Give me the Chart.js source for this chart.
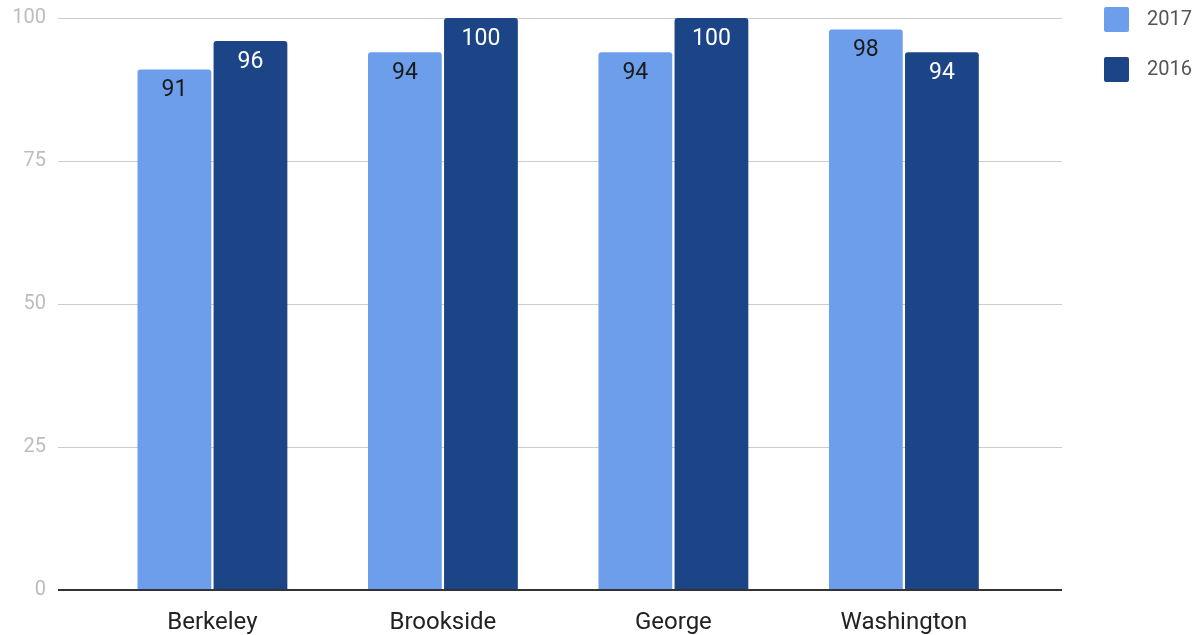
<!DOCTYPE html>
<html>
<head>
<meta charset="utf-8">
<script src="https://cdn.jsdelivr.net/npm/chart.js@4"></script>
<style>
  html, body { margin: 0; padding: 0; background: #fff; }
  #wrap { width: 1200px; height: 635px; }
</style>
</head>
<body>
<div id="wrap"><canvas id="chart" width="1200" height="635"></canvas></div>
<script>
const schools = ['Berkeley', 'Brookside', 'George', 'Washington'];
const scores2017 = [91, 94, 94, 98];
const scores2016 = [96, 100, 100, 94];
const yTicks = [0, 25, 50, 75, 100];

const lightBlue = '#6d9eeb';
const darkBlue = '#1c4587';

// value labels inside the top of each bar
const barLabels = {
  id: 'barLabels',
  afterDatasetsDraw(chart) {
    const ctx = chart.ctx;
    ctx.save();
    ctx.font = '23px Roboto';
    ctx.textAlign = 'center';
    ctx.textBaseline = 'middle';
    chart.data.datasets.forEach((ds, i) => {
      chart.getDatasetMeta(i).data.forEach((bar, j) => {
        ctx.fillStyle = ds.labelColor;
        ctx.fillText(ds.data[j].y, bar.x, bar.y + 21);
      });
    });
    ctx.restore();
  }
};

// legend drawn at top right
const sideLegend = {
  id: 'sideLegend',
  afterDraw(chart) {
    const ctx = chart.ctx;
    const x = chart.chartArea.right + 42;
    ctx.save();
    ctx.font = '20px Roboto';
    ctx.textBaseline = 'middle';
    chart.data.datasets.forEach((ds, i) => {
      const y = 7 + i * 50;
      ctx.fillStyle = ds.backgroundColor;
      ctx.beginPath();
      ctx.roundRect(x, y, 25, 25, 2);
      ctx.fill();
      ctx.fillStyle = '#555';
      ctx.fillText(ds.label, x + 43, y + 13);
    });
    ctx.restore();
  }
};

new Chart(document.getElementById('chart'), {
  type: 'bar',
  data: {
    datasets: [
      {
        label: '2017',
        data: scores2017.map((v, i) => ({ x: i, y: v })),
        backgroundColor: lightBlue,
        labelColor: '#1a1a1a',
        borderRadius: 3
      },
      {
        label: '2016',
        data: scores2016.map((v, i) => ({ x: i, y: v })),
        backgroundColor: darkBlue,
        labelColor: '#ffffff',
        borderRadius: 3
      }
    ]
  },
  options: {
    responsive: false,
    animation: false,
    categoryPercentage: 0.66,
    barPercentage: 0.97,
    layout: { padding: { top: 18, right: 138, left: 0, bottom: 0 } },
    plugins: {
      legend: { display: false },
      tooltip: { enabled: false }
    },
    scales: {
      x: {
        type: 'linear',
        offset: false,
        min: -0.67,
        max: 3.686,
        afterFit: s => { s.height = 45; s.paddingLeft = 0; s.paddingRight = 0; },
        grid: { display: false, offset: false },
        border: { display: false },
        ticks: {
          stepSize: 1,
          includeBounds: false,
          autoSkip: false,
          maxRotation: 0,
          padding: 11,
          color: '#222',
          font: { family: 'Roboto', size: 24 },
          callback: v => (Number.isInteger(v) && schools[v] !== undefined) ? schools[v] : null
        }
      },
      y: {
        min: 0,
        max: 100,
        afterFit: s => { s.width = 58; s.paddingTop = 0; s.paddingBottom = 0; },
        afterBuildTicks: s => { s.ticks = yTicks.map(v => ({ value: v })); },
        border: { display: false },
        grid: {
          drawTicks: false,
          color: c => c.tick && c.tick.value === 0 ? '#333' : '#cccccc',
          lineWidth: c => c.tick && c.tick.value === 0 ? 2 : 1
        },
        ticks: {
          padding: 12,
          color: '#bdbdbd',
          font: { family: 'Roboto', size: 20 }
        }
      }
    }
  },
  plugins: [barLabels, sideLegend]
});
</script>
</body>
</html>
